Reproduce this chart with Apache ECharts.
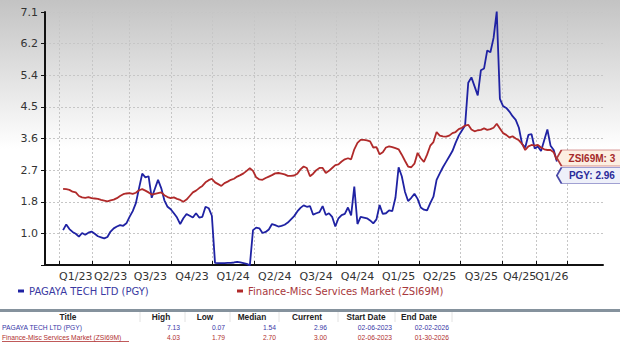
<!DOCTYPE html>
<html>
<head>
<meta charset="utf-8">
<script src="https://cdn.jsdelivr.net/npm/echarts@6/dist/echarts.min.js"></script>
<style>
    html, body {margin: 0; padding: 0; background: #fff;}
    #price-chart {width: 620px; height: 354px;}
</style>
</head>
<body>
<div id="price-chart"></div>
<script>
const pgyName = "PAGAYA TECH LTD (PGY)";
const zsiName = "Finance-Misc Services Market (ZSI69M)";

// weekly closes, first week is 02-06-2023
const pgyValues = [
    1.05, 1.21, 1.08, 1.00, 0.95, 0.87, 0.97, 0.92, 0.98, 1.01,
    0.95, 0.88, 0.85, 0.82, 0.86, 1.01, 1.10, 1.15, 1.19, 1.17,
    1.24, 1.42, 1.58, 1.80, 2.22, 2.62, 2.52, 2.55, 1.95, 2.20,
    2.45, 2.22, 1.88, 1.70, 1.63, 1.52, 1.40, 1.22, 1.38, 1.50,
    1.45, 1.40, 1.52, 1.40, 1.42, 1.70, 1.66, 1.45, 0.14, 0.13,
    0.13, 0.13, 0.14, 0.14, 0.15, 0.17, 0.15, 0.13, 0.11, 0.07,
    1.05, 1.12, 1.10, 0.97, 1.00, 1.07, 1.22, 1.19, 1.15, 1.17,
    1.20, 1.26, 1.35, 1.44, 1.57, 1.67, 1.74, 1.70, 1.72, 1.48,
    1.52, 1.55, 1.72, 1.47, 1.52, 1.42, 1.15, 1.38, 1.47, 1.50,
    1.68, 1.46, 2.26, 1.22, 1.42, 1.40, 1.38, 1.32, 1.24, 1.35,
    1.75, 1.50, 1.52, 1.60, 1.58, 1.95, 2.80, 2.55, 2.12, 1.86,
    1.95, 2.06, 1.92, 1.68, 1.62, 1.60, 1.80, 1.98, 2.45, 2.63,
    2.80, 2.95, 3.10, 3.25, 3.48, 3.68, 3.82, 3.96, 5.15, 5.30,
    5.05, 4.80, 5.50, 5.55, 6.05, 6.00, 6.40, 7.13, 4.70, 4.50,
    4.45, 4.35, 4.22, 4.12, 3.90, 3.45, 3.35, 3.70, 3.72, 3.32,
    3.38, 3.25, 3.55, 3.85, 3.40, 3.28, 2.96
];
const zsiValues = [
    2.20, 2.19, 2.17, 2.12, 2.10, 2.00, 1.96, 1.95, 1.97, 1.94,
    1.93, 1.92, 1.89, 1.87, 1.85, 1.88, 1.90, 1.94, 2.00, 2.05,
    2.07, 2.08, 2.06, 2.09, 2.16, 2.19, 2.15, 2.10, 2.04, 2.06,
    2.08, 2.10, 2.02, 1.97, 1.94, 1.96, 1.92, 1.89, 1.84, 1.90,
    2.00, 2.10, 2.15, 2.22, 2.28, 2.38, 2.44, 2.48, 2.38, 2.33,
    2.28, 2.36, 2.40, 2.45, 2.48, 2.54, 2.58, 2.63, 2.70, 2.77,
    2.70, 2.52, 2.46, 2.45, 2.50, 2.54, 2.58, 2.63, 2.64, 2.62,
    2.60, 2.56, 2.56, 2.57, 2.62, 2.74, 2.82, 2.78, 2.55, 2.62,
    2.72, 2.78, 2.78, 2.64, 2.70, 2.78, 2.86, 2.88, 2.96, 3.02,
    3.05, 3.02, 3.30, 3.48, 3.56, 3.56, 3.55, 3.52, 3.35, 3.36,
    3.16, 3.22, 3.35, 3.38, 3.36, 3.33, 3.30, 3.15, 2.98, 2.82,
    2.80, 2.90, 3.20, 3.05, 2.95, 3.15, 3.40, 3.50, 3.78, 3.68,
    3.66, 3.65, 3.68, 3.75, 3.78, 3.86, 3.90, 3.96, 3.98, 3.85,
    3.80, 3.83, 3.84, 3.88, 3.84, 3.86, 3.90, 4.01, 3.88, 3.75,
    3.70, 3.63, 3.66, 3.60, 3.55, 3.45, 3.28, 3.38, 3.42, 3.40,
    3.42, 3.35, 3.30, 3.28, 3.28, 3.22, 3.00
];

// x axis: quarter labels sit between the grid lines
const quarterLabels = ["Q1/23", "Q2/23", "Q3/23", "Q4/23", "Q1/24", "Q2/24", "Q3/24",
    "Q4/24", "Q1/25", "Q2/25", "Q3/25", "Q4/25", "Q1/26"];
const quarterLines = ["2023-01-29", "2023-04-11", "2023-07-02", "2023-10-04", "2024-01-02",
    "2024-04-03", "2024-07-04", "2024-10-03", "2025-01-03", "2025-04-03", "2025-07-03",
    "2025-10-05", "2025-12-19", "2026-02-25"];

const tableHeader = ["Title", "High", "Low", "Median", "Current", "Start Date", "End Date"];
const tableRows = [
    [pgyName, "7.13", "0.07", "1.54", "2.96", "02-06-2023", "02-02-2026"],
    [zsiName, "4.03", "1.79", "2.70", "3.00", "02-06-2023", "01-30-2026"]
];

const BLUE = "#1f22a3";
const RED = "#b02a2a";
const DAY = 86400000;
const toTs = (s) => {
    const [y, m, d] = s.split("-").map(Number);
    return Date.UTC(y, m - 1, d);
};
const firstWeek = toTs("2023-02-06");
const pgyData = pgyValues.map((v, i) => [firstWeek + i * 7 * DAY, v]);
const zsiData = zsiValues.map((v, i) => [firstWeek + i * 7 * DAY, v]);
const lineTs = quarterLines.map(toTs);
const labelTs = quarterLabels.map((_, i) => (lineTs[i] + lineTs[i + 1]) / 2);
const xMin = toTs("2022-12-28");
const xMax = toTs("2026-05-15");

const quarterName = (val) => {
    let best = 0;
    labelTs.forEach((t, i) => {
        if (Math.abs(t - val) < Math.abs(labelTs[best] - val)) best = i;
    });
    return quarterLabels[best];
};
const labelStyle = {margin: 6, color: "#333", fontSize: 11, fontFamily: "DejaVu Sans", formatter: quarterName};

const chart = echarts.init(document.getElementById("price-chart"), null, {renderer: "svg"});

// table under the chart
const headerCenters = [68, 161, 205, 252, 307, 366, 419];
const valueRights = [0, 180, 225, 276, 327, 392, 449];
const cellSeps = [140, 185, 230, 279, 338, 395, 452];
const rowColors = ["#3636a6", "#b03030"];
const graphics = [
    {type: "rect", shape: {x: 0, y: 309, width: 620, height: 3}, style: {fill: "#85929d"}}
];
cellSeps.forEach((x) => {
    graphics.push({type: "line", shape: {x1: x, y1: 312, x2: x, y2: 322}, style: {stroke: "#e2e2e2", lineWidth: 1}});
});
tableHeader.forEach((h, i) => {
    graphics.push({
        type: "text", x: headerCenters[i], y: 317,
        style: {text: h, fill: "#222", font: 'bold 8.3px "Liberation Sans"', align: "center", verticalAlign: "middle"}
    });
});
tableRows.forEach((row, r) => {
    const y = 327.5 + r * 10;
    row.forEach((cell, i) => {
        graphics.push({
            type: "text", x: i === 0 ? 2 : valueRights[i], y: y,
            style: {text: cell, fill: rowColors[r], font: '6.7px "Liberation Sans"', align: i === 0 ? "left" : "right", verticalAlign: "middle"}
        });
    });
});
// the second title is underlined
graphics.push({type: "line", shape: {x1: 2, y1: 341.5, x2: 129, y2: 341.5}, style: {stroke: "#b03030", lineWidth: 0.8}});

const tag = (text, fill, stroke, color, dy) => ({
    symbol: "path://M0,8L7,0L100,0L100,16L7,16Z",
    symbolSize: [66, 16],
    symbolOffset: [33, dy],
    silent: true,
    itemStyle: {color: fill, borderColor: stroke, borderWidth: 1},
    label: {
        show: true, position: "inside", formatter: text, offset: [2, 0],
        color: color, fontSize: 10, fontWeight: "bold", fontFamily: "Liberation Sans"
    }
});

const pgyLast = pgyData[pgyData.length - 1];
const zsiLast = zsiData[zsiData.length - 1];

chart.setOption({
    animation: false,
    backgroundColor: new echarts.graphic.LinearGradient(0, 0, 0, 1, [
        {offset: 0, color: "#c3c3c3"},
        {offset: 0.42, color: "#ffffff"},
        {offset: 1, color: "#ffffff"}
    ]),
    grid: {left: 45, right: 17, top: 12, bottom: 89},
    legend: [
        {
            left: 13, top: 281, padding: 5, selectedMode: false,
            icon: "rect", itemWidth: 6, itemHeight: 3,
            textStyle: {fontFamily: "DejaVu Sans", fontSize: 10},
            data: [{name: pgyName, textStyle: {color: "#3a3aa2"}}]
        },
        {
            left: 232, top: 281, padding: 5, selectedMode: false,
            icon: "rect", itemWidth: 6, itemHeight: 3,
            textStyle: {fontFamily: "DejaVu Sans", fontSize: 10},
            data: [{name: zsiName, textStyle: {color: "#a8383c"}}]
        }
    ],
    xAxis: [
        {
            // dates as plain timestamps so custom tick positions can be used
            type: "value",
            position: "bottom",
            min: xMin,
            max: xMax,
            axisLine: {lineStyle: {color: "#111", width: 2}},
            axisTick: {show: true, inside: true, length: 4, customValues: lineTs, lineStyle: {color: "#111"}},
            axisLabel: Object.assign({customValues: labelTs.slice(0, -1)}, labelStyle),
            splitLine: {show: true, lineStyle: {type: [2, 2], color: "#c6c6c6"}}
        },
        {
            // last quarter label drawn on its own so it is not dropped for touching Q4/25
            type: "value",
            position: "bottom",
            min: xMin,
            max: xMax,
            axisLine: {show: false},
            axisTick: {show: false},
            axisLabel: Object.assign({customValues: labelTs.slice(-1)}, labelStyle),
            splitLine: {show: false}
        }
    ],
    yAxis: {
        type: "value",
        min: 0.08,
        max: 7.12,
        interval: 0.88,
        axisLine: {show: true, lineStyle: {color: "#111", width: 2}},
        axisTick: {show: true, length: 4, lineStyle: {color: "#111"}},
        axisLabel: {
            margin: 7,
            color: "#333",
            fontSize: 11,
            fontFamily: "DejaVu Sans",
            formatter: (v) => (v < 0.5 ? "" : v.toFixed(1))
        },
        splitLine: {show: true, lineStyle: {type: [2, 2], color: "#c6c6c6"}}
    },
    series: [
        {
            type: "line",
            name: pgyName,
            data: pgyData,
            showSymbol: false,
            color: BLUE,
            lineStyle: {width: 1.8},
            markPoint: Object.assign(tag("PGY: " + pgyLast[1], "#eef0f9", "#4a4aa8", "#2a2a9a", 14),
                {data: [{coord: pgyLast}]})
        },
        {
            type: "line",
            name: zsiName,
            data: zsiData,
            showSymbol: false,
            color: RED,
            lineStyle: {width: 1.8},
            markPoint: Object.assign(tag("ZSI69M: " + zsiLast[1], "#fcefe2", "#b23a3a", "#a52a2a", -2),
                {data: [{coord: zsiLast}]})
        }
    ],
    graphic: graphics
});
</script>
</body>
</html>
